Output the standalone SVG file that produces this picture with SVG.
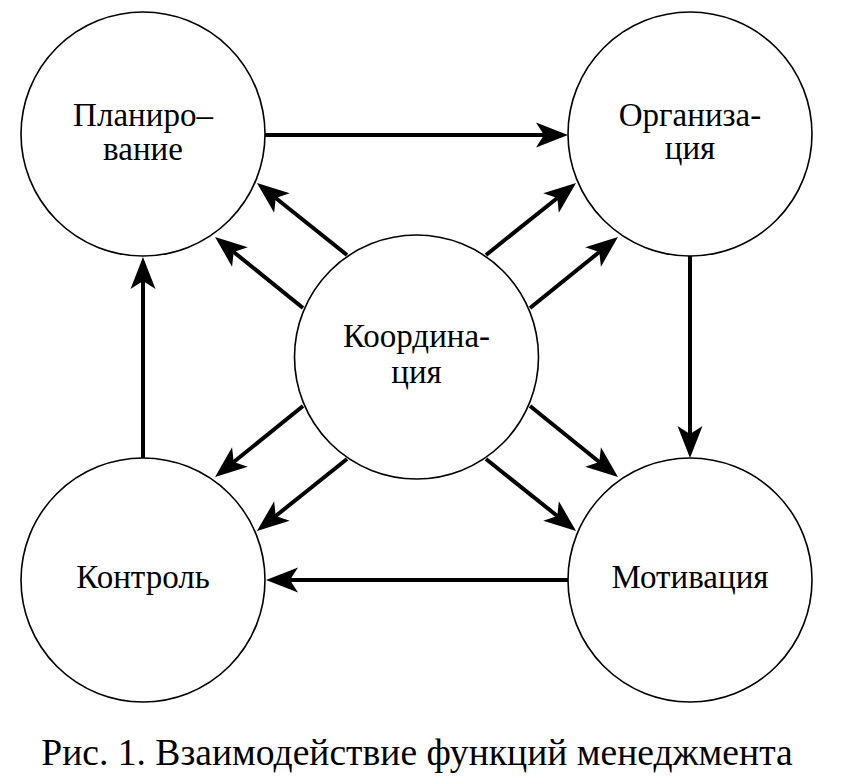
<svg xmlns="http://www.w3.org/2000/svg" width="846" height="784" viewBox="0 0 846 784">
<style>
.node{fill:#fff;stroke:#000;stroke-width:1.6}
.lbl{font-family:'Liberation Serif','Times New Roman',serif;font-size:33px;fill:#000;text-anchor:middle}
.cap{font-family:'Liberation Serif','Times New Roman',serif;font-size:37.6px;fill:#000;text-anchor:middle}
.arr{stroke:#000;stroke-width:4;fill:none;marker-end:url(#ah)}
</style>
<defs>
<marker id="ah" markerUnits="userSpaceOnUse" markerWidth="40" markerHeight="30" viewBox="0 -15 34 30" refX="8" refY="0" orient="auto">
<path d="M0,-12.5 L32,0 L0,12.5 L8,0 Z" fill="#000"/>
</marker>
</defs>
<rect width="846" height="784" fill="#fff"/>
<g id="connectors">
<line class="arr" x1="265" y1="135" x2="544" y2="135"/>
<line class="arr" x1="690" y1="256" x2="690" y2="434"/>
<line class="arr" x1="568" y1="580" x2="290" y2="580"/>
<line class="arr" x1="143" y1="458" x2="143" y2="281"/>
<line class="arr" x1="347" y1="255" x2="275.7" y2="198"/>
<line class="arr" x1="303" y1="308" x2="233.7" y2="252"/>
<line class="arr" x1="486" y1="255" x2="557.3" y2="198"/>
<line class="arr" x1="530" y1="308" x2="599.3" y2="252"/>
<line class="arr" x1="303" y1="406" x2="233.7" y2="462"/>
<line class="arr" x1="347" y1="459" x2="275.7" y2="516"/>
<line class="arr" x1="530" y1="406" x2="599.3" y2="462"/>
<line class="arr" x1="486" y1="459" x2="557.3" y2="516"/>
</g>
<g id="planning">
<circle class="node" cx="143" cy="134" r="122"/>
<text class="lbl" x="143" y="126">Планиро–</text>
<text class="lbl" x="143" y="160">вание</text>
</g>
<g id="organization">
<circle class="node" cx="690" cy="134" r="122"/>
<text class="lbl" x="690" y="126">Организа-</text>
<text class="lbl" x="690" y="159">ция</text>
</g>
<g id="coordination">
<circle class="node" cx="416.5" cy="357" r="122"/>
<text class="lbl" x="416.5" y="347">Координа-</text>
<text class="lbl" x="416.5" y="383">ция</text>
</g>
<g id="control">
<circle class="node" cx="143" cy="580" r="122"/>
<text class="lbl" x="143" y="588">Контроль</text>
</g>
<g id="motivation">
<circle class="node" cx="690" cy="580" r="122"/>
<text class="lbl" x="690" y="588">Мотивация</text>
</g>
<text class="cap" x="417" y="765">Рис. 1. Взаимодействие функций менеджмента</text>
</svg>
